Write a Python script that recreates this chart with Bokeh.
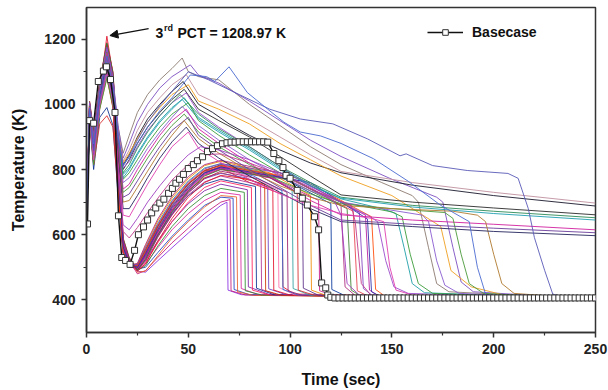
from bokeh.plotting import figure
from bokeh.models import Range1d, FixedTicker, Label, Arrow, NormalHead, Legend, LegendItem
from bokeh.embed import file_html
from bokeh.resources import INLINE

# ---------------- data ----------------
# shared time grid of the "lower" runs (early quench family), seconds
lower_t = [0, 1.5, 3.5, 6.5, 10, 13, 15.5, 18, 21, 25, 29, 35, 42, 50, 58, 66]
lower_T = [
    [630, 1000, 880, 1040, 1209, 1090, 830, 570, 512, 500, 545, 625, 695, 755, 795, 805],
    [630, 985, 860, 1020, 1170, 1060, 800, 560, 530, 488, 485, 520, 560, 605, 650, 690],
    [630, 995, 900, 1050, 1150, 1040, 780, 555, 520, 480, 490, 530, 575, 620, 665, 700],
    [630, 970, 840, 1000, 1130, 1020, 760, 550, 515, 495, 500, 545, 595, 645, 690, 715],
    [630, 1005, 910, 1060, 1180, 1075, 820, 575, 525, 485, 488, 535, 590, 640, 685, 720],
    [630, 960, 820, 990, 1100, 1000, 740, 545, 505, 492, 510, 560, 615, 665, 705, 730],
    [630, 990, 870, 1030, 1140, 1050, 790, 565, 518, 490, 505, 565, 625, 680, 720, 742],
    [630, 975, 850, 1010, 1120, 1010, 770, 560, 512, 498, 520, 580, 640, 695, 735, 755],
    [630, 1010, 920, 1070, 1190, 1100, 850, 590, 530, 494, 515, 575, 640, 700, 745, 765],
    [630, 950, 800, 960, 990, 935, 720, 540, 500, 500, 535, 600, 665, 720, 755, 770],
    [630, 995, 890, 1045, 1160, 1070, 810, 570, 515, 492, 525, 595, 660, 722, 762, 780],
    [630, 980, 860, 1015, 1110, 1025, 780, 555, 508, 505, 545, 610, 675, 735, 775, 790],
    [630, 965, 830, 995, 1090, 990, 750, 548, 510, 498, 530, 598, 668, 730, 772, 788],
    [630, 1000, 900, 1055, 1175, 1085, 830, 580, 522, 488, 510, 580, 650, 715, 760, 782],
    [630, 985, 875, 1035, 1145, 1060, 800, 565, 515, 500, 540, 612, 682, 742, 785, 800],
    [630, 970, 845, 1005, 1125, 1030, 770, 558, 510, 502, 548, 620, 690, 750, 790, 805],
    [630, 1005, 905, 1065, 1185, 1095, 845, 585, 525, 490, 520, 592, 662, 728, 772, 795],
    [630, 990, 880, 1040, 1150, 1055, 805, 568, 512, 508, 560, 635, 705, 765, 805, 818],
    [630, 955, 815, 940, 965, 930, 735, 545, 506, 505, 555, 628, 698, 758, 798, 812],
    [630, 995, 895, 1050, 1165, 1080, 825, 578, 520, 496, 538, 610, 680, 742, 788, 808],
    [630, 975, 855, 1012, 1115, 1020, 775, 556, 508, 510, 565, 642, 712, 772, 812, 825],
    [630, 1000, 910, 1060, 1178, 1088, 835, 582, 524, 494, 530, 602, 672, 735, 782, 802],
    [630, 980, 865, 1025, 1135, 1045, 795, 562, 511, 506, 552, 625, 695, 755, 796, 815],
    [630, 962, 825, 992, 1095, 995, 745, 547, 505, 512, 570, 648, 718, 778, 815, 828],
    [630, 1008, 915, 1068, 1188, 1098, 848, 588, 528, 492, 525, 598, 670, 733, 780, 800],
    [630, 988, 870, 1032, 1142, 1052, 798, 566, 513, 503, 546, 618, 688, 748, 792, 810],
    [630, 972, 848, 1008, 1122, 1028, 768, 557, 509, 508, 560, 632, 702, 762, 802, 818],
    [630, 1002, 902, 1058, 1172, 1082, 828, 580, 521, 497, 535, 606, 676, 738, 785, 805],
    [630, 958, 818, 988, 1082, 988, 738, 546, 507, 504, 552, 626, 696, 756, 797, 813],
    [630, 983, 868, 1028, 1138, 1048, 793, 563, 512, 500, 542, 615, 685, 746, 790, 808],
]
# (time, temperature) after t = 66 s : decline, quench, quenched level
lower_tail = [
    [(80, 760), (96, 725), (96.5, 440), (102, 418), (250, 402)],
    [(69, 700), (69.5, 430), (76, 416), (250, 402)],
    [(70.5, 708), (71, 428), (78, 415), (250, 402)],
    [(72, 712), (72.5, 432), (80, 416), (250, 402)],
    [(73.7, 716), (74.2, 425), (82, 414), (250, 402)],
    [(75.5, 722), (76, 435), (84, 417), (250, 402)],
    [(77.5, 730), (78, 428), (86, 415), (250, 402)],
    [(79, 738), (79.5, 440), (84, 430), (90, 416), (250, 402)],
    [(81, 745), (81.5, 430), (90, 415), (250, 402)],
    [(83, 748), (83.5, 436), (92, 416), (250, 402)],
    [(85.5, 752), (86, 432), (94, 415), (250, 402)],
    [(87.5, 755), (88, 428), (96, 414), (250, 402)],
    [(78, 775), (89, 745), (89.5, 434), (98, 416), (250, 402)],
    [(80, 770), (91.5, 740), (92, 430), (100, 415), (250, 402)],
    [(80, 780), (94, 738), (94.5, 438), (102, 416), (250, 402)],
    [(82, 780), (96, 735), (96.5, 432), (104, 415), (250, 402)],
    [(84, 772), (98.5, 730), (99, 428), (106, 414), (250, 402)],
    [(85, 795), (101, 740), (101.5, 435), (110, 414), (250, 402)],
    [(88, 782), (103.5, 728), (104, 430), (112, 414), (250, 402)],
    [(90, 775), (106, 722), (106.5, 436), (114, 414), (250, 402)],
    [(90, 790), (110, 720), (110.5, 430), (118, 413), (250, 402)],
    [(92, 772), (114, 705), (114.5, 428), (122, 412), (250, 402)],
    [(95, 778), (120, 695), (120.5, 432), (128, 410), (250, 402)],
    [(95, 790), (125, 690), (127, 440), (133, 408), (250, 402)],
    [(98, 770), (128, 680), (130, 430), (136, 407), (250, 402)],
    [(100, 775), (131, 672), (133, 428), (140, 406), (250, 402)],
    [(100, 785), (134, 668), (136, 435), (142, 406), (250, 402)],
    [(105, 765), (137, 660), (139, 430), (145, 406), (250, 402)],
    [(105, 772), (140, 655), (142, 432), (148, 405), (250, 402)],
    [(110, 760), (138, 648), (140, 425), (146, 405), (250, 402)],
]

# shared early time grid of the "upper" runs (second peak near 50 s)
upper_t = [0, 1.5, 3.5, 6.5, 10, 13, 15.5, 18, 21, 25, 30, 36, 42]
upper_T = [
    [630, 995, 885, 1045, 1160, 1070, 930, 850, 905, 975, 1030, 1075, 1110],
    [630, 1000, 895, 1050, 1175, 1080, 935, 835, 880, 945, 1000, 1050, 1085],
    [630, 985, 870, 1030, 1140, 1050, 910, 825, 860, 920, 975, 1020, 1060],
    [630, 975, 855, 1020, 1125, 1040, 900, 815, 845, 900, 955, 1000, 1040],
    [630, 990, 880, 1040, 1155, 1060, 915, 820, 850, 895, 945, 990, 1030],
    [630, 970, 845, 1010, 1110, 1025, 885, 800, 830, 880, 930, 975, 1015],
    [630, 1005, 900, 1055, 1170, 1075, 920, 805, 825, 870, 920, 965, 1005],
    [630, 965, 835, 1000, 1100, 1015, 870, 790, 815, 865, 915, 965, 1005],
    [630, 980, 865, 1025, 1130, 1045, 890, 785, 805, 850, 900, 950, 990],
    [630, 960, 825, 995, 1090, 1005, 860, 775, 800, 845, 895, 945, 985],
    [630, 995, 890, 1048, 1160, 1065, 900, 770, 790, 830, 880, 930, 970],
    [630, 975, 850, 1015, 1115, 1030, 870, 760, 775, 815, 865, 915, 960],
    [630, 985, 875, 1035, 1145, 1055, 880, 740, 755, 800, 850, 905, 950],
    [630, 955, 815, 985, 1080, 995, 845, 730, 745, 785, 835, 890, 935],
    [630, 990, 885, 1042, 1150, 1060, 870, 715, 725, 765, 815, 870, 920],
    [630, 968, 840, 1005, 1105, 1020, 850, 700, 705, 745, 795, 855, 905],
    [630, 980, 860, 1022, 1125, 1040, 840, 680, 680, 720, 775, 835, 885],
    [630, 962, 830, 998, 1095, 1010, 820, 660, 655, 700, 755, 815, 870],
    [630, 970, 845, 1008, 1110, 1020, 800, 630, 615, 650, 700, 750, 795],
    [630, 992, 888, 1046, 1158, 1062, 790, 610, 590, 622, 668, 720, 768],
    [630, 978, 858, 1018, 1122, 1035, 895, 810, 840, 890, 945, 995, 1040],
    [630, 988, 878, 1038, 1148, 1058, 905, 815, 838, 880, 930, 980, 1020],
]
upper_tail = [
    [(47, 1142), (50, 1100), (55, 1085), (65, 1075), (80, 1000), (95, 935), (110, 870), (125, 815),
     (145, 760), (160, 720), (163, 700), (168, 560), (172, 450), (178, 425), (250, 402)],
    [(51, 1121), (55, 1090), (65, 1065), (80, 1010), (95, 950), (110, 890), (125, 840), (150, 770),
     (172, 715), (175, 700), (180, 560), (184, 455), (190, 425), (250, 402)],
    [(49, 1091), (55, 1030), (65, 1000), (80, 955), (95, 900), (110, 845), (125, 794), (160, 760),
     (200, 730), (250, 697)],
    [(47.5, 1070), (55, 1000), (62, 975), (70, 940), (80, 905), (95, 860), (110, 820), (125, 790),
     (160, 752), (200, 720), (250, 688)],
    [(50, 1060), (55, 1010), (65, 985), (80, 940), (95, 880), (110, 830), (125, 780), (150, 720),
     (174, 625), (179, 490), (189, 440), (203, 418), (212, 405), (250, 402)],
    [(48, 1046), (55, 985), (65, 950), (80, 900), (95, 840), (110, 780), (125, 722), (160, 700),
     (200, 682), (250, 661)],
    [(49, 1035), (55, 975), (65, 930), (80, 870), (95, 810), (110, 750), (125, 700), (138, 660),
     (143, 640), (147, 520), (151, 440), (158, 420), (250, 402)],
    [(46, 1030), (55, 970), (65, 925), (80, 870), (95, 810), (110, 760), (125, 715), (160, 690),
     (200, 672), (250, 652)],
    [(48, 1020), (55, 960), (65, 920), (80, 865), (95, 805), (110, 755), (125, 710), (145, 680),
     (152, 665), (156, 560), (160, 450), (166, 422), (250, 402)],
    [(47, 1015), (55, 955), (65, 915), (80, 860), (95, 800), (110, 750), (125, 712), (160, 685),
     (200, 665), (250, 645)],
    [(50, 1005), (55, 950), (65, 905), (80, 845), (95, 790), (110, 740), (125, 700), (150, 670),
     (155, 655), (159, 540), (163, 450), (170, 420), (250, 402)],
    [(47, 994), (55, 935), (65, 890), (80, 830), (95, 780), (110, 735), (125, 700), (150, 675),
     (165, 660), (168, 640), (172, 520), (176, 445), (183, 420), (250, 402)],
    [(49, 985), (55, 925), (65, 880), (80, 820), (95, 760), (110, 705), (125, 661), (160, 645),
     (200, 632), (250, 615)],
    [(48, 970), (55, 915), (65, 870), (80, 815), (95, 765), (110, 725), (125, 695), (150, 680),
     (176, 668), (180, 650), (184, 540), (188, 450), (195, 420), (250, 402)],
    [(50, 960), (55, 905), (65, 860), (80, 800), (95, 745), (110, 690), (125, 645), (160, 632),
     (200, 620), (250, 606)],
    [(48, 950), (55, 895), (65, 850), (80, 795), (95, 750), (110, 715), (125, 690), (150, 680),
     (180, 672), (192, 660), (196, 640), (200, 540), (204, 450), (210, 420), (250, 402)],
    [(49, 930), (55, 880), (65, 835), (80, 780), (95, 730), (110, 680), (125, 640), (160, 625),
     (200, 610), (250, 597)],
    [(50, 915), (55, 865), (65, 825), (80, 770), (95, 725), (110, 690), (125, 665), (140, 650),
     (146, 640), (149, 500), (152, 430), (160, 415), (250, 402)],
    [(50, 845), (56, 870), (65, 860), (80, 830), (95, 790), (110, 745), (122, 700), (125, 660),
     (128, 450), (134, 415), (250, 402)],
    [(50, 815), (57, 845), (66, 848), (80, 820), (95, 785), (110, 740), (130, 690), (132, 640),
     (135, 450), (140, 412), (250, 402)],
    [(50, 1100), (60, 1075), (75, 1030), (90, 985), (105, 955), (121, 940), (138, 894), (154, 842),
     (157, 848), (170, 812), (187, 797), (207, 788), (212, 773), (217, 680), (220, 591), (225, 491),
     (229, 418), (236, 405), (250, 403)],
    [(51, 1090), (59, 1085), (63, 1070), (70, 1115), (79, 1036), (89, 985), (97, 945), (105, 915),
     (115, 903), (125, 880), (141, 833), (158, 764), (174, 690), (188, 640), (192, 500), (196, 418),
     (205, 405), (250, 403)],
]

# basecase run (square markers)
base_t = [0.5, 1.5, 3.5, 5.8, 8.3, 9.8, 11.8, 14, 15.7, 17.3, 19.2, 21.4, 23.6, 25.5, 28, 30, 32, 34,
          36, 38, 40.3, 42.2, 43.9, 45.7, 47.6, 50, 52.5, 54.5, 57, 59.4, 61.9, 64.3, 66.8, 69, 71, 73,
          75, 77, 79, 81, 83, 85, 87, 89, 92, 94.5, 96.5, 98, 100, 103.5, 106, 108.5, 112, 114, 115.5,
          117.5, 118.5, 120, 122, 124, 126, 128, 130, 132, 134, 136, 138, 140, 142, 144, 146, 148,
          150, 152, 154, 156, 158, 160, 162, 164, 166, 168, 170, 172, 174, 176, 178, 180, 182, 184,
          186, 188, 190, 192, 194, 196, 198, 200, 202, 204, 206, 208, 210, 212, 214, 216, 218, 220,
          222, 224, 226, 228, 230, 232, 234, 236, 238, 240, 242, 244, 246, 248, 250]
base_T = [633, 950, 942, 1070, 1102, 1115, 1076, 975, 658, 530, 521, 509, 552, 600, 624, 645, 667, 682,
          697, 709, 727, 742, 758, 770, 785, 803, 815, 827, 839, 855, 864, 873, 879, 882, 884, 884,
          885, 885, 885, 885, 885, 885, 885, 884, 849, 827, 806, 782, 773, 736, 712, 691, 655, 615, 452,
          437, 415, 408, 406, 406, 406, 406, 406, 406, 406, 406, 406, 406, 406, 406, 406, 406,
          406, 406, 406, 406, 406, 406, 406, 406, 406, 406, 406, 406, 406, 406, 406, 406, 406, 406,
          406, 406, 406, 406, 406, 406, 406, 406, 406, 406, 406, 406, 406, 406, 406, 406, 406, 406,
          406, 406, 406, 406, 406, 406, 406, 406, 406, 406, 406, 406, 406, 406, 406]

x_ticks = [0, 50, 100, 150, 200, 250]
y_ticks = [400, 600, 800, 1000, 1200]

# ---------------- styles ----------------
lower_colors = ["#e0102a", "#8a2be2", "#c2187a", "#1f3fbf", "#e8602c", "#d6249f", "#2e8b2e",
                "#7b1fa2", "#ff1f5a", "#0b2f8f", "#b03090", "#cc3300", "#6a3fc0", "#e0102a",
                "#ff6fa8", "#1e6fd9", "#9b1b6b", "#2f9e9e", "#d62728", "#5b2a86", "#f08a00",
                "#c71585", "#003399", "#aa2277", "#3a7d2c", "#e63946", "#7f3fbf", "#b5179e",
                "#ff4500", "#2a2aa8"]
upper_colors = ["#8c7b70", "#7d4fc2", "#c0909f", "#1a1a2e", "#f0a020", "#2b2b2b", "#9c4dcc",
                "#2e8b57", "#20a0a8", "#1f9fb0", "#3c9c3c", "#8a5cd0", "#d020a0", "#4a9a3a",
                "#6a3d9a", "#b07a30", "#25255e", "#e040b0", "#a040c0", "#c03c8c", "#5a5ab8",
                "#4a6ad0"]
FONT = "Liberation Sans"

p = figure(width=608, height=390, output_backend="svg", toolbar_location=None,
           x_range=Range1d(0, 250), y_range=Range1d(300, 1297),
           min_border_left=86, min_border_right=13, min_border_top=7, min_border_bottom=55)
p.xgrid.visible = False
p.ygrid.visible = False
p.outline_line_color = "#333333"
p.outline_line_width = 1.5
p.background_fill_color = "white"
p.border_fill_color = "white"

for row, tail, col in zip(lower_T, lower_tail, lower_colors):
    ts = lower_t + [a for a, b in tail]
    Ts = row + [b for a, b in tail]
    p.line(ts, Ts, line_color=col, line_width=1, line_alpha=0.85)

for row, tail, col in zip(upper_T, upper_tail, upper_colors):
    ts = upper_t + [a for a, b in tail]
    Ts = row + [b for a, b in tail]
    p.line(ts, Ts, line_color=col, line_width=1, line_alpha=0.9)

bl = p.line(base_t, base_T, line_color="#111111", line_width=1.4)
bs = p.scatter(base_t, base_T, marker="square", size=6, fill_color="white",
               line_color="#333333", line_width=1)

legend = Legend(items=[LegendItem(label="Basecase", renderers=[bl, bs])],
                location=(341, 292), padding=0, margin=0, spacing=0,
                glyph_width=36, glyph_height=14, label_height=14, label_standoff=9,
                border_line_color=None, background_fill_alpha=0,
                label_text_font=FONT, label_text_font_style="bold",
                label_text_font_size="14px", label_text_color="#111111")
p.add_layout(legend)

p.xaxis.ticker = FixedTicker(ticks=x_ticks, minor_ticks=[25, 75, 125, 175, 225])
p.yaxis.ticker = FixedTicker(ticks=y_ticks, minor_ticks=[500, 700, 900, 1100])
p.xaxis.axis_label = "Time (sec)"
p.yaxis.axis_label = "Temperature (K)"
for ax in (p.xaxis[0], p.yaxis[0]):
    ax.major_tick_in = 0
    ax.major_tick_out = 5
    ax.minor_tick_in = 0
    ax.minor_tick_out = 3
    ax.axis_line_width = 1.5
    ax.axis_line_color = "#333333"
    ax.major_tick_line_width = 1.5
    ax.major_tick_line_color = "#333333"
    ax.minor_tick_line_width = 1.2
    ax.minor_tick_line_color = "#333333"
    ax.major_label_text_font = FONT
    ax.major_label_text_font_style = "bold"
    ax.major_label_text_font_size = "14px"
    ax.major_label_text_color = "#222222"
    ax.axis_label_text_font = FONT
    ax.axis_label_text_font_style = "bold"
    ax.axis_label_text_font_size = "16px"
    ax.axis_label_text_color = "#111111"
p.xaxis.major_label_standoff = 6
p.xaxis.axis_label_standoff = 14
p.yaxis.major_label_standoff = 6
p.yaxis.axis_label_standoff = 14

p.add_layout(Label(x=33.9, y=1218, text="3", text_font=FONT, text_font_style="bold",
                   text_font_size="14px", text_color="#111111", text_baseline="alphabetic"))
p.add_layout(Label(x=38.1, y=1235, text="rd", text_font=FONT, text_font_style="bold",
                   text_font_size="9px", text_color="#111111", text_baseline="alphabetic"))
p.add_layout(Label(x=44.7, y=1218, text="PCT = 1208.97 K", text_font=FONT, text_font_style="bold",
                   text_font_size="14px", text_color="#111111", text_baseline="alphabetic"))
p.add_layout(Arrow(end=NormalHead(size=8, fill_color="#111111", line_color="#111111"),
                   x_start=30.5, y_start=1232, x_end=11.5, y_end=1211,
                   line_color="#111111", line_width=1.3))

open("out.html", "w").write(file_html(p, INLINE))
